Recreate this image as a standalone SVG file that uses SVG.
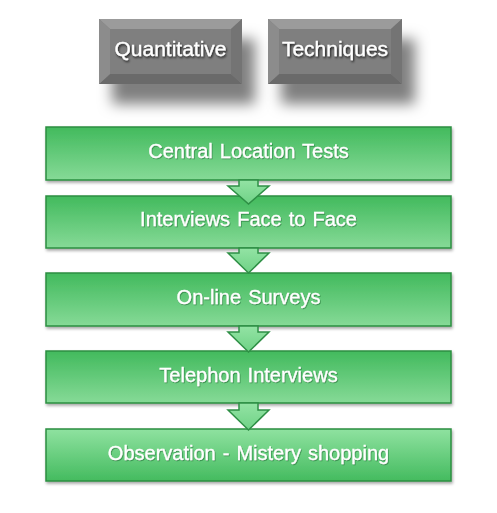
<svg xmlns="http://www.w3.org/2000/svg" width="497" height="513" viewBox="0 0 497 513">
<defs>
  <linearGradient id="gDown" x1="0" y1="0" x2="0" y2="1">
    <stop offset="0" stop-color="#42ba5d"/>
    <stop offset="1" stop-color="#86da97"/>
  </linearGradient>
  <linearGradient id="gUp" x1="0" y1="0" x2="0" y2="1">
    <stop offset="0" stop-color="#8fe2a0"/>
    <stop offset="1" stop-color="#44bb5f"/>
  </linearGradient>
  <linearGradient id="gArrow" x1="0" y1="0" x2="0" y2="1">
    <stop offset="0" stop-color="#93e3a4"/>
    <stop offset="1" stop-color="#6fd286"/>
  </linearGradient>
  <filter id="bigShadow" x="-30%" y="-40%" width="180%" height="220%">
    <feDropShadow dx="13" dy="20" stdDeviation="7" flood-color="#000" flood-opacity="0.5"/>
  </filter>
  <filter id="smallShadow" x="-5%" y="-10%" width="110%" height="130%">
    <feDropShadow dx="1" dy="2" stdDeviation="1.5" flood-color="#000" flood-opacity="0.35"/>
  </filter>
  <filter id="txtShadow" x="-10%" y="-30%" width="120%" height="160%">
    <feDropShadow dx="1" dy="1.5" stdDeviation="1" flood-color="#000" flood-opacity="0.8"/>
  </filter>
  <filter id="txtShadowG" x="-10%" y="-30%" width="120%" height="160%">
    <feDropShadow dx="0.8" dy="1" stdDeviation="0.7" flood-color="#1d6b30" flood-opacity="0.6"/>
  </filter>
</defs>
<style>
  .gt { font-family: "Liberation Sans", Arial, sans-serif; font-size: 21px; fill: #ffffff; stroke: #ffffff; stroke-width: 0.3; text-anchor: middle; }
  .lt { font-family: "Liberation Sans", Arial, sans-serif; font-size: 20px; fill: #ffffff; stroke: #ffffff; stroke-width: 0.3; text-anchor: middle; word-spacing: 1.5px; }
  .gbox { stroke: #2b8f42; stroke-width: 1.5; }
  .arrow { fill: url(#gArrow); stroke: #2e8f45; stroke-width: 1.5; stroke-linejoin: miter; }
</style>

<g id="quantitative">
  <g filter="url(#bigShadow)">
    <rect x="99" y="19" width="143" height="65" fill="#7e7e7e"/>
  </g>
  <polygon points="99,19 242,19 231,29 110,29" fill="#9b9b9b"/>
  <polygon points="99,84 242,84 231,74 110,74" fill="#6a6a6a"/>
  <polygon points="99,19 110,29 110,74 99,84" fill="#8c8c8c"/>
  <polygon points="242,19 231,29 231,74 242,84" fill="#747474"/>
  <rect x="110" y="29" width="121" height="45" fill="#7f7f7f"/>
  <text class="gt" x="170.5" y="56" filter="url(#txtShadow)">Quantitative</text>
</g>

<g id="techniques">
  <g filter="url(#bigShadow)">
    <rect x="268" y="19" width="134" height="65" fill="#7e7e7e"/>
  </g>
  <polygon points="268,19 402,19 391,29 279,29" fill="#9b9b9b"/>
  <polygon points="268,84 402,84 391,74 279,74" fill="#6a6a6a"/>
  <polygon points="268,19 279,29 279,74 268,84" fill="#8c8c8c"/>
  <polygon points="402,19 391,29 391,74 402,84" fill="#747474"/>
  <rect x="279" y="29" width="112" height="45" fill="#7f7f7f"/>
  <text class="gt" x="335" y="56" filter="url(#txtShadow)">Techniques</text>
</g>

<g id="central-location-tests">
  <rect class="gbox" x="46" y="127" width="405" height="53" fill="url(#gDown)" filter="url(#smallShadow)"/>
  <text class="lt" x="248.5" y="157.5" filter="url(#txtShadowG)">Central Location Tests</text>
</g>
<g id="interviews-face-to-face">
  <rect class="gbox" x="46" y="196" width="405" height="52" fill="url(#gDown)" filter="url(#smallShadow)"/>
  <text class="lt" x="248.5" y="226" filter="url(#txtShadowG)">Interviews Face to Face</text>
</g>
<g id="online-surveys">
  <rect class="gbox" x="46" y="273" width="405" height="53" fill="url(#gDown)" filter="url(#smallShadow)"/>
  <text class="lt" x="248.5" y="304" filter="url(#txtShadowG)">On-line Surveys</text>
</g>
<g id="telephon-interviews">
  <rect class="gbox" x="46" y="351" width="405" height="52" fill="url(#gDown)" filter="url(#smallShadow)"/>
  <text class="lt" x="248.5" y="381.5" filter="url(#txtShadowG)">Telephon Interviews</text>
</g>
<g id="observation">
  <rect class="gbox" x="46" y="429" width="405" height="52" fill="url(#gUp)" filter="url(#smallShadow)"/>
  <text class="lt" x="248.5" y="460" filter="url(#txtShadowG)">Observation - Mistery shopping</text>
</g>

<g id="connectors">
  <polygon class="arrow" points="239,180 258,180 258,186 269,186 248.5,204 228,186 239,186"/>
  <polygon class="arrow" points="239,248 258,248 258,253 269,253 248.5,273 228,253 239,253"/>
  <polygon class="arrow" points="239,326 258,326 258,332 269,332 248.5,352 228,332 239,332"/>
  <polygon class="arrow" points="239,403 258,403 258,410 269,410 248.5,430 228,410 239,410"/>
</g>
</svg>
